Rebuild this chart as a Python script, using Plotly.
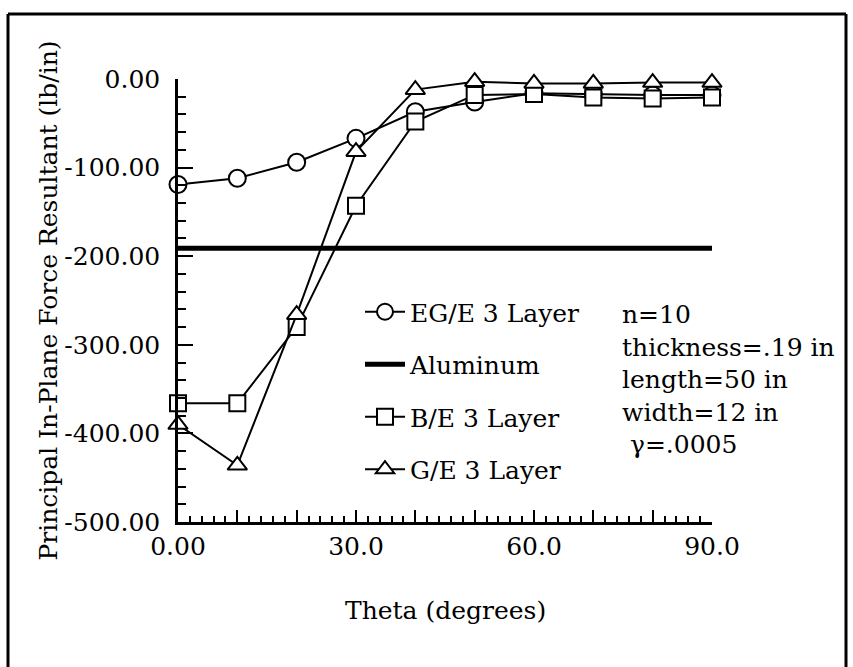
import plotly.graph_objects as go

# ---- data ----
theta = [0, 10, 20, 30, 40, 50, 60, 70, 80, 90]
eg_e = [-119, -112, -94, -67, -37, -26, -16, -17, -18, -18]
b_e = [-366, -366, -280, -143, -48, -18, -17, -21, -22, -21]
g_e = [-390, -436, -266, -82, -12, -3, -5, -5, -4, -4]
aluminum_theta = [0, 90]
aluminum = [-191, -191]

x_tickvals = [0, 10, 20, 30, 40, 50, 60, 70, 80, 90]
x_ticktext = ["0.00", "", "", "30.0", "", "", "60.0", "", "", "90.0"]
y_tickvals = [0, -100, -200, -300, -400, -500]
y_ticktext = ["0.00", "-100.00", "-200.00", "-300.00", "-400.00", "-500.00"]

FONT = "DejaVu Serif"
FS = 25

fig = go.Figure()

def add_series(x, y, name, symbol, size, group):
    fig.add_trace(go.Scatter(
        x=x, y=y, name=name, mode="lines+markers", legendgroup=group,
        line=dict(color="black", width=2),
        marker=dict(symbol=symbol, size=size, color="white",
                    line=dict(color="black", width=2)),
        cliponaxis=False,
    ))

add_series(theta, eg_e, "EG/E 3 Layer", "circle", 17, "a")
fig.add_trace(go.Scatter(
    x=aluminum_theta, y=aluminum, name="Aluminum", mode="lines", legendgroup="b",
    line=dict(color="black", width=5), cliponaxis=False,
))
add_series(theta, b_e, "B/E 3 Layer", "square", 16, "c")
add_series(theta, g_e, "G/E 3 Layer", "triangle-up", 17, "d")

# plot area in pixels: x 178..712, y 79..522
L, R, T, B = 178, 712, 79, 522
W, H = R - L, B - T

def px(xp):
    return (xp - L) / W

def py(yp):
    return (B - yp) / H

fig.update_layout(
    width=853, height=667,
    margin=dict(l=L, r=853 - R, t=T, b=667 - B),
    paper_bgcolor="white", plot_bgcolor="white",
    font=dict(family=FONT, color="black", size=FS),
    showlegend=True,
    legend=dict(
        x=px(360), y=py(289), xanchor="left", yanchor="top",
        bgcolor="rgba(0,0,0,0)", font=dict(family=FONT, size=FS, color="black"),
        tracegroupgap=17, itemwidth=40,
    ),
    xaxis=dict(
        range=[0, 90], showgrid=False, zeroline=False,
        showline=True, linecolor="black", linewidth=2.5,
        ticks="inside", ticklen=12, tickwidth=2, tickcolor="black",
        tickvals=x_tickvals, ticktext=x_ticktext,
        tickfont=dict(family=FONT, size=FS, color="black"),
        minor=dict(dtick=2, ticks="inside", ticklen=6, tickwidth=2, tickcolor="black"),
    ),
    yaxis=dict(
        range=[-500, 0], showgrid=False, zeroline=False,
        showline=True, linecolor="black", linewidth=2.5,
        ticks="inside", ticklen=15, tickwidth=2, tickcolor="black",
        tickvals=y_tickvals, ticktext=y_ticktext,
        tickfont=dict(family=FONT, size=FS, color="black"),
        ticklabelstandoff=10,
        minor=dict(dtick=20, ticks="inside", ticklen=8, tickwidth=2, tickcolor="black"),
    ),
    annotations=[
        dict(text="Theta (degrees)", xref="paper", yref="paper",
             x=0.5, y=py(610), xanchor="center", yanchor="middle",
             showarrow=False, font=dict(family=FONT, size=FS)),
        dict(text="Principal In-Plane Force Resultant (lb/in)", xref="paper", yref="paper",
             x=px(48), y=0.5, xanchor="center", yanchor="middle", textangle=-90,
             showarrow=False, font=dict(family=FONT, size=FS)),
        dict(text="n=10<br>thickness=.19 in<br>length=50 in<br>width=12 in<br> γ=.0005",
             xref="paper", yref="paper", x=px(620), y=py(298),
             xanchor="left", yanchor="top", align="left",
             showarrow=False, font=dict(family=FONT, size=FS)),
    ],
    shapes=[
        dict(type="line", xref="paper", yref="paper", x0=px(8), x1=px(8),
             y0=py(14), y1=py(700), line=dict(color="black", width=3)),
        dict(type="line", xref="paper", yref="paper", x0=px(8), x1=px(846),
             y0=py(14), y1=py(14), line=dict(color="black", width=3)),
        dict(type="line", xref="paper", yref="paper", x0=px(846), x1=px(846),
             y0=py(14), y1=py(700), line=dict(color="black", width=3)),
    ],
)

fig.write_html("out.html")
